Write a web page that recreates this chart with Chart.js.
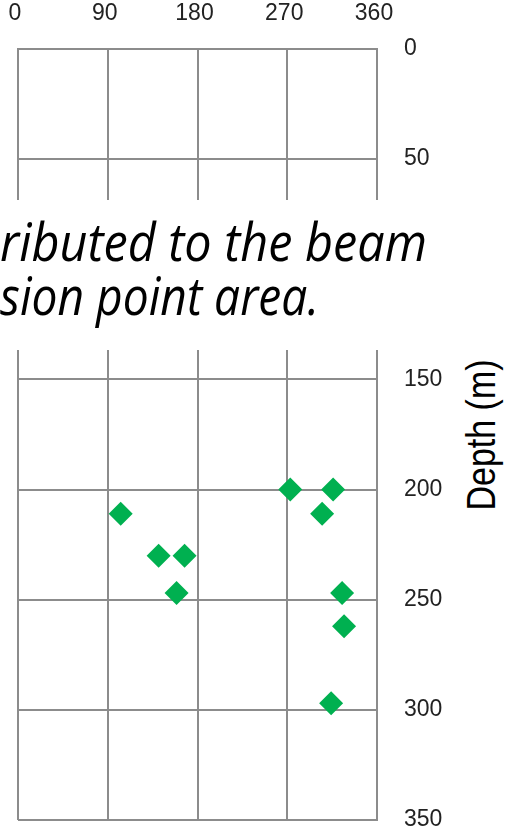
<!DOCTYPE html>
<html>
<head>
<meta charset="utf-8">
<script src="https://cdn.jsdelivr.net/npm/chart.js@4.4.1/dist/chart.umd.min.js"></script>
<style>
  html, body { margin: 0; padding: 0; background: #fff; overflow: hidden; }
  #wrap { position: relative; width: 514px; height: 832px; overflow: hidden; background: #fff; }
  #chart { position: absolute; left: 0; top: 0; }
  #note { position: absolute; left: 0; top: 200px; width: 514px; height: 150px; background: #fff; overflow: hidden; }
  .ln { position: absolute; left: 0; top: 0; white-space: nowrap; font-family: "Open Sans", "Noto Sans", sans-serif;
        font-style: italic; font-size: 53px; line-height: 53px; color: #000; transform-origin: 0 0; }
  .mark { display: inline-block; width: 0; height: 0; vertical-align: baseline; }
  #ybox { position: absolute; left: 444px; top: 350px; width: 70px; height: 172px; background: #fff; }
  #ytitle { position: absolute; left: 481px; top: 435px; white-space: nowrap; font-family: "Liberation Sans", Arial, sans-serif;
            font-size: 34px; line-height: 1; color: #000; transform: translate(-50%, -50%) rotate(-90deg) scaleY(1.2); }
</style>
</head>
<body>
<div id="wrap">
  <canvas id="chart" width="514" height="832"></canvas>
  <div id="note">
    <div class="ln" id="l1"><span class="txt">ributed to the beam</span><i class="mark"></i></div>
    <div class="ln" id="l2"><span class="txt">sion point area.</span><i class="mark"></i></div>
  </div>
  <div id="ybox"></div>
  <div id="ytitle">Depth (m)</div>
</div>
<script>
// Azimuth (degrees) and depth (m) of each event
const angles = [103, 141, 167, 273, 316, 305, 159, 325, 327, 314];
const depths = [211, 230, 230, 200, 200, 211, 247, 247, 262, 297];

// Axis ticks
const angleTicks = [0, 90, 180, 270, 360];
const depthTicks = [0, 50, 100, 150, 200, 250, 300, 350];

const gridGray = '#8c8c8c';
const tickFont = { family: '"Liberation Sans", Arial, sans-serif', size: 23 };

// Plot frame inside the 514x832 canvas
const frame = { left: 18, top: 49, right: 377, bottom: 820 };

// Fixed axis box sizes; label overhang is absorbed by the layout padding
function fixBox(s) {
  if (s.isHorizontal()) s.height = frame.top; else s.width = 514 - frame.right;
  s.paddingLeft = 0; s.paddingRight = 0; s.paddingTop = 0; s.paddingBottom = 0;
}

const points = angles.map((a, i) => ({ x: a, y: depths[i] }));

new Chart(document.getElementById('chart'), {
  type: 'scatter',
  data: {
    datasets: [{
      data: points,
      pointStyle: 'rectRot',
      pointRadius: 12,
      pointHoverRadius: 12,
      backgroundColor: '#00b050',
      borderColor: '#00b050',
      borderWidth: 0,
      clip: false
    }]
  },
  options: {
    responsive: false,
    animation: false,
    devicePixelRatio: 1,
    events: [],
    layout: { autoPadding: false, padding: { left: frame.left, right: 0, top: 0, bottom: 832 - frame.bottom } },
    plugins: { legend: { display: false }, tooltip: { enabled: false } },
    scales: {
      x: {
        type: 'linear',
        position: 'top',
        min: 0,
        max: 360,
        afterBuildTicks: s => { s.ticks = angleTicks.map(v => ({ value: v })); },
        afterFit: fixBox,
        grid: { color: gridGray, lineWidth: 2, drawTicks: false },
        border: { color: gridGray, width: 2 },
        ticks: { font: tickFont, color: '#222', padding: 22, labelOffset: -3, maxRotation: 0, autoSkip: false }
      },
      y: {
        type: 'linear',
        position: 'right',
        reverse: true,
        min: 0,
        max: 350,
        afterBuildTicks: s => { s.ticks = depthTicks.map(v => ({ value: v })); },
        afterFit: fixBox,
        grid: { color: gridGray, lineWidth: 2, drawTicks: false },
        border: { color: gridGray, width: 2 },
        ticks: { font: tickFont, color: '#222', padding: 27, autoSkip: false }
      }
    }
  }
});

// Fit each caption line to its width and place it on its baseline
function placeLine(id, width, baseline) {
  const el = document.getElementById(id);
  el.style.top = '0px';
  el.style.transform = 'none';
  const txt = el.querySelector('.txt');
  const w = txt.getBoundingClientRect().width;
  el.style.transform = 'scaleX(' + (width / w) + ')';
  const box = document.getElementById('note').getBoundingClientRect();
  const m = el.querySelector('.mark').getBoundingClientRect().top - box.top;
  el.style.top = (baseline - m) + 'px';
}
function layoutNote() {
  placeLine('l1', 427, 61);
  placeLine('l2', 319, 115);
}
layoutNote();
if (document.fonts && document.fonts.ready) {
  document.fonts.ready.then(layoutNote);
}
</script>
</body>
</html>
